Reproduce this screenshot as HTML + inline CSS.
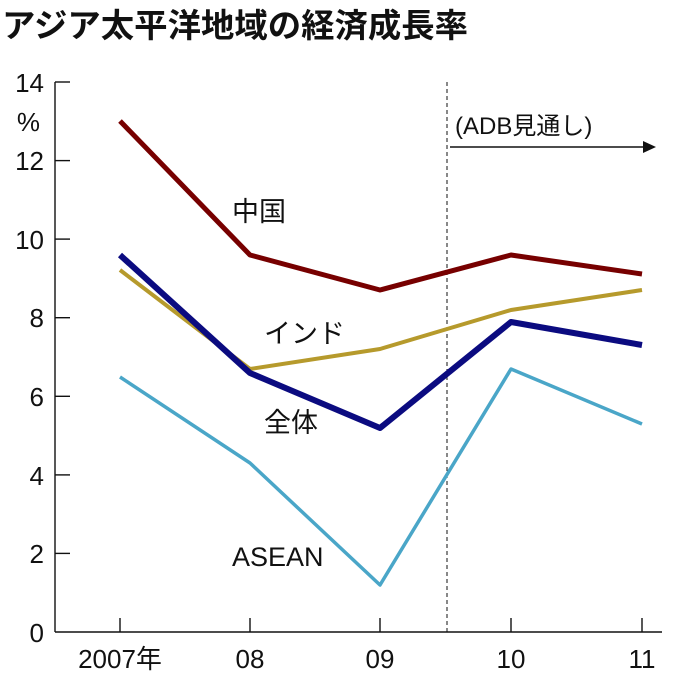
<!DOCTYPE html>
<html><head><meta charset="utf-8"><style>
body{margin:0;background:#fff}
svg text{font-family:"Liberation Sans","Noto Sans CJK JP",sans-serif;fill:#111}
</style></head><body>
<svg width="680" height="680" viewBox="0 0 680 680" xmlns="http://www.w3.org/2000/svg">
<text x="2" y="37" font-size="33" font-weight="bold" textLength="466" lengthAdjust="spacingAndGlyphs" font-family="Noto Sans CJK JP, sans-serif">アジア太平洋地域の経済成長率</text>
<g stroke="#111" stroke-width="1.4">
<line x1="55" y1="82" x2="55" y2="632"/>
<line x1="55" y1="632" x2="662" y2="632"/>
<line x1="55" y1="82" x2="70" y2="82"/>
<line x1="55" y1="160.6" x2="70" y2="160.6"/>
<line x1="55" y1="239.1" x2="70" y2="239.1"/>
<line x1="55" y1="317.7" x2="70" y2="317.7"/>
<line x1="55" y1="396.3" x2="70" y2="396.3"/>
<line x1="55" y1="474.9" x2="70" y2="474.9"/>
<line x1="55" y1="553.4" x2="70" y2="553.4"/>
<line x1="120" y1="632" x2="120" y2="618"/>
<line x1="250" y1="632" x2="250" y2="618"/>
<line x1="380" y1="632" x2="380" y2="618"/>
<line x1="511" y1="632" x2="511" y2="618"/>
<line x1="642" y1="632" x2="642" y2="618"/>
</g>
<g font-size="26" text-anchor="end">
<text x="44" y="92">14</text>
<text x="40" y="131">%</text>
<text x="44" y="170">12</text>
<text x="44" y="249">10</text>
<text x="44" y="327">8</text>
<text x="44" y="406">6</text>
<text x="44" y="485">4</text>
<text x="44" y="563">2</text>
<text x="44" y="642">0</text>
</g>
<g font-size="26" text-anchor="middle">
<text x="120" y="668">2007年</text>
<text x="250" y="668">08</text>
<text x="380" y="668">09</text>
<text x="511" y="668">10</text>
<text x="642" y="668">11</text>
</g>
<line x1="447" y1="82" x2="447" y2="632" stroke="#111" stroke-width="1" stroke-dasharray="4,3"/>
<line x1="450" y1="147" x2="645" y2="147" stroke="#111" stroke-width="1.5"/>
<polygon points="656,147 643,141 643,153" fill="#111"/>
<text x="455" y="134" font-size="24">(ADB見通し)</text>
<g fill="none" stroke-width="5" stroke-linejoin="round">
<polyline stroke="#700" points="120,121 250,255 380,290 511,255 642,274"/>
<polyline stroke="#b69a2c" stroke-width="4" points="120,270 250,369 380,349 511,310 642,290"/>
<polyline stroke="#4aa6c8" stroke-width="3.5" points="120,377 250,463 380,585 511,369 642,424"/>
<polyline stroke="#0b0b80" stroke-width="6" points="120,255 250,373 380,428 511,322 642,345"/>
</g>
<g font-size="27">
<text x="232" y="221">中国</text>
<text x="264" y="343">インド</text>
<text x="264" y="432">全体</text>
<text x="232" y="566">ASEAN</text>
</g>
</svg>
</body></html>
